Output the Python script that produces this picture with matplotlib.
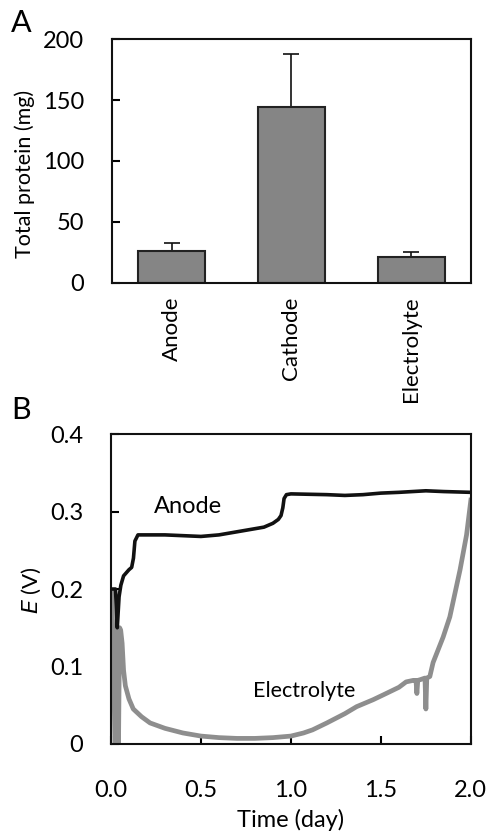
#!/usr/bin/env python3
"""Two-panel figure: total protein per compartment (A) and potential vs time (B)."""

import matplotlib
matplotlib.use("Agg")
import matplotlib.pyplot as plt

# panel A
categories = ["Anode", "Cathode", "Electrolyte"]
protein = [26.5, 144, 21.5]
protein_err = [6.5, 44, 4.2]

# panel B
anode_t = [0.0, 0.025, 0.035, 0.045, 0.055, 0.07, 0.1, 0.115, 0.125, 0.133, 0.15,
           0.2, 0.3, 0.4, 0.5, 0.6, 0.7, 0.8, 0.85, 0.9, 0.93, 0.945, 0.955,
           0.962, 0.975, 1.0, 1.2, 1.3, 1.4, 1.5, 1.6, 1.75, 1.85, 2.0]
anode_e = [0.2, 0.2, 0.15, 0.19, 0.205, 0.217, 0.225, 0.228, 0.24, 0.262, 0.27,
           0.27, 0.27, 0.269, 0.268, 0.27, 0.274, 0.278, 0.28, 0.285, 0.29, 0.295, 0.305,
           0.317, 0.322, 0.323, 0.322, 0.321, 0.322, 0.324, 0.325, 0.327, 0.326, 0.325]

elec_t = [0.005, 0.015, 0.022, 0.03, 0.038, 0.042, 0.048, 0.054, 0.062, 0.07, 0.08,
          0.1, 0.124, 0.17, 0.217, 0.3, 0.4, 0.5, 0.6, 0.7, 0.8, 0.9, 1.0, 1.07,
          1.12, 1.2, 1.3, 1.365, 1.457, 1.52, 1.6, 1.64, 1.68, 1.695, 1.70, 1.705,
          1.72, 1.745, 1.75, 1.755, 1.772, 1.79, 1.846, 1.883, 1.94, 1.976, 2.0]
elec_e = [0.195, 0.1, 0.0, 0.0, 0.15, 0.0, 0.15, 0.147, 0.13, 0.095, 0.075,
          0.058, 0.045, 0.035, 0.027, 0.02, 0.014, 0.01, 0.008, 0.007, 0.007, 0.008, 0.01,
          0.014, 0.018, 0.027, 0.039, 0.048, 0.057, 0.064, 0.073, 0.08, 0.082, 0.082,
          0.065, 0.082, 0.083, 0.085, 0.045, 0.085, 0.087, 0.105, 0.138, 0.164, 0.225,
          0.27, 0.315]

FONT = ["Lato", "DejaVu Sans"]
plt.rcParams["font.family"] = FONT
plt.rcParams["font.size"] = 14

fig = plt.figure(figsize=(4.91, 8.32), dpi=100)
axA = fig.add_axes([0.228, 0.660, 0.731, 0.293])
axB = fig.add_axes([0.226, 0.106, 0.733, 0.372])

for ax in (axA, axB):
    for s in ax.spines.values():
        s.set_linewidth(1.5)
        s.set_color("#111111")

# --- A
x = range(len(categories))
axA.bar(x, protein, width=0.56, color="#858585", edgecolor="#222222",
        linewidth=1.5, zorder=2)
axA.errorbar(x, protein, yerr=[[0] * 3, protein_err], fmt="none",
             ecolor="#111111", elinewidth=1.2, capsize=5.5, capthick=1.2, zorder=1)
axA.set_xlim(-0.5, 2.5)
axA.set_ylim(0, 200)
axA.set_yticks([0, 50, 100, 150, 200])
axA.set_xticks(list(x))
axA.set_xticklabels(categories, rotation=90)
axA.tick_params(axis="y", direction="in", length=6, width=1.5, pad=20, labelsize=17)
axA.tick_params(axis="x", length=0, pad=10, labelsize=16)
axA.set_ylabel("Total protein (mg)", fontsize=15.5)
axA.yaxis.set_label_coords(-0.215, 0.447)

# --- B
axB.plot(anode_t, anode_e, color="#111111", lw=2.6, zorder=3)
axB.plot(elec_t, elec_e, color="#8e8e8e", lw=3.4, zorder=2)
axB.set_xlim(0, 2.0)
axB.set_ylim(0, 0.4)
axB.set_xticks([0, 0.5, 1.0, 1.5, 2.0])
axB.set_xticklabels(["0.0", "0.5", "1.0", "1.5", "2.0"])
axB.set_yticks([0, 0.1, 0.2, 0.3, 0.4])
axB.set_yticklabels(["0", "0.1", "0.2", "0.3", "0.4"])
axB.tick_params(direction="in", length=6, width=1.5, labelsize=17)
axB.tick_params(axis="y", pad=20)
axB.tick_params(axis="x", pad=26)
axB.set_xlabel("Time (day)", fontsize=17, labelpad=6)
axB.set_ylabel("$\\it{E}$ (V)", fontsize=16)
axB.yaxis.set_label_coords(-0.19, 0.497)
axB.text(0.24, 0.307, "Anode", fontsize=17, ha="left", va="center")
axB.text(0.79, 0.068, "Electrolyte", fontsize=15.5, ha="left", va="center")

fig.text(0.022, 0.972, "A", fontsize=22, va="center")
fig.text(0.022, 0.507, "B", fontsize=22, va="center")

fig.savefig("out.png", dpi=100, facecolor="white")
